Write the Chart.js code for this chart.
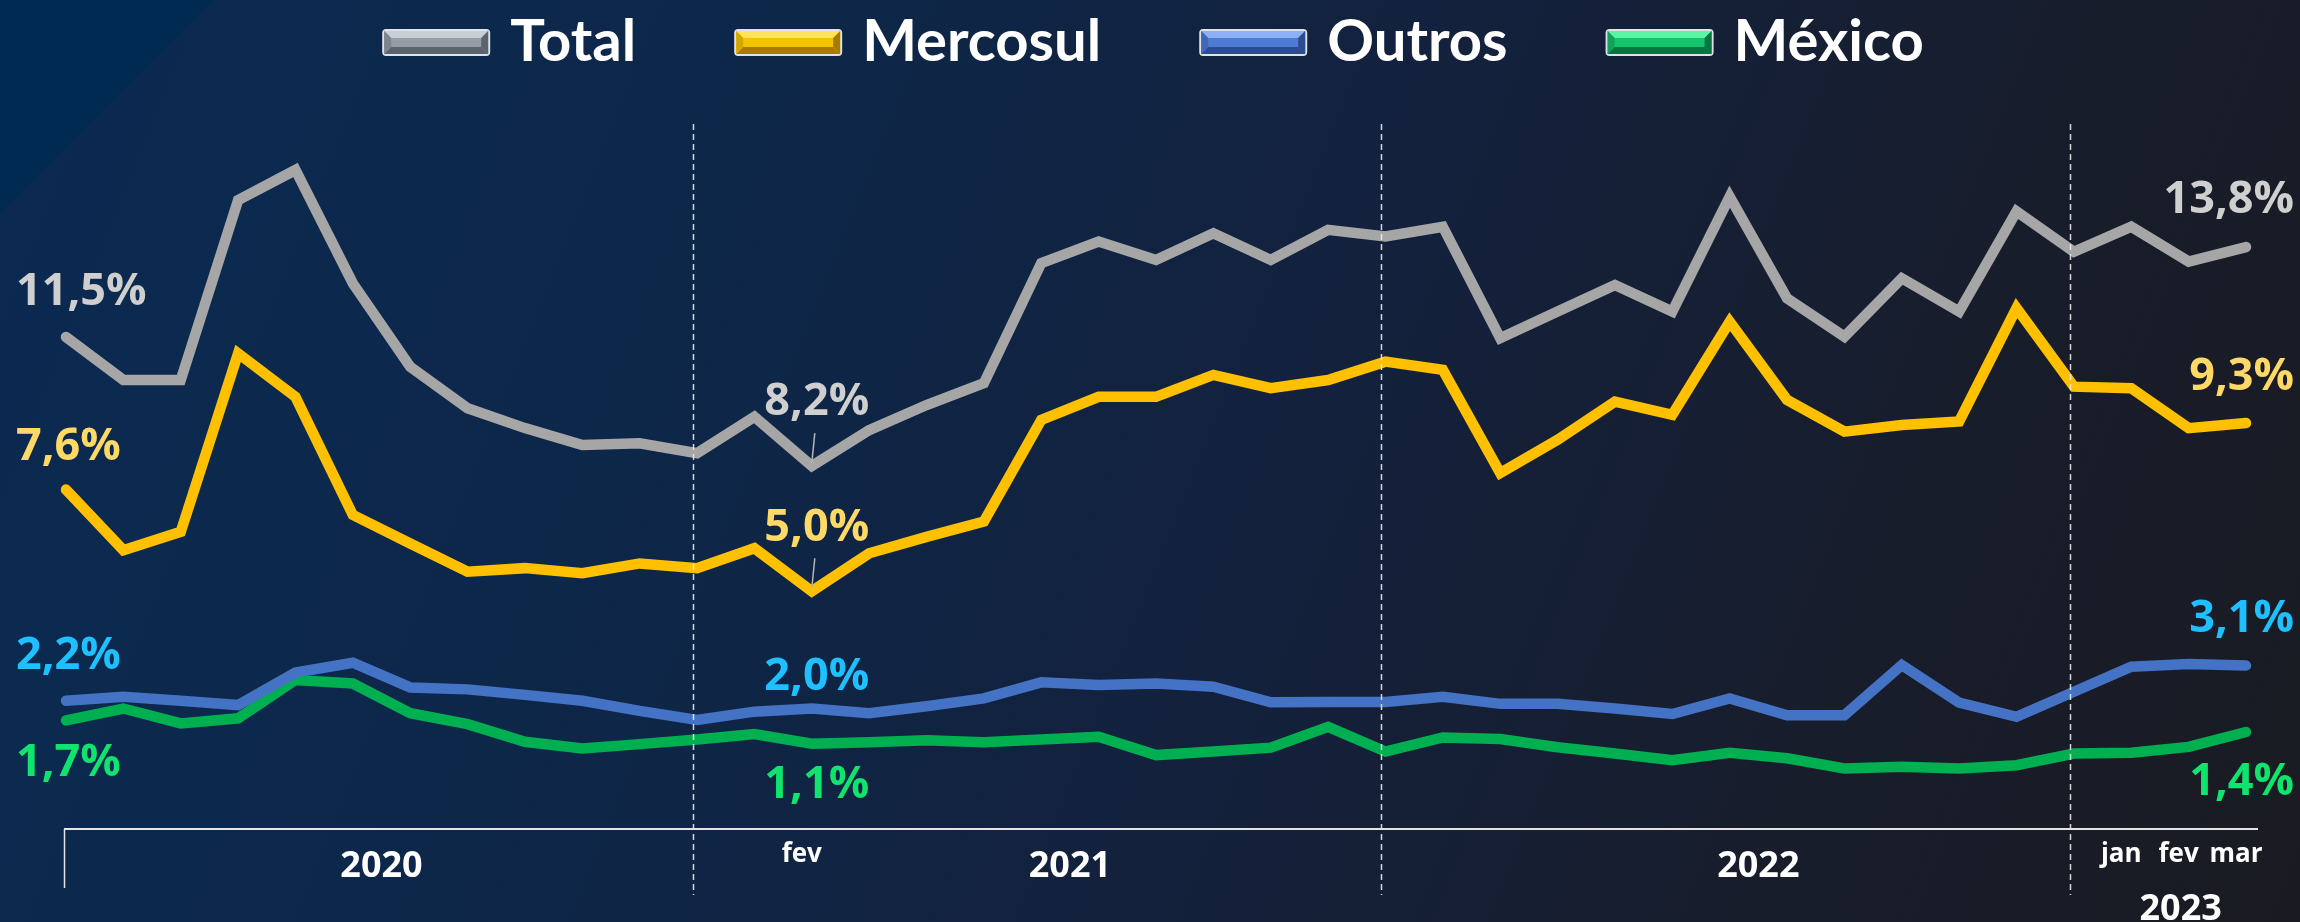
<!DOCTYPE html>
<html><head><meta charset="utf-8">
<script src="https://cdn.jsdelivr.net/npm/chart.js@4/dist/chart.umd.min.js"></script>
<style>html,body{margin:0;padding:0;background:#10223f;}canvas{display:block;}</style>
</head><body><canvas id="c" width="2300" height="922"></canvas>
<script>
// ---------- DATA ----------
const monthNames = ['jan','fev','mar','abr','mai','jun','jul','ago','set','out','nov','dez'];
const years = ['2020','2021','2022','2023'];
const monthsPerYear = [12, 12, 12, 3];
const seriesNames = ['Total', 'Mercosul', 'Outros', 'México'];
const total    = [11.5,10.40,10.40,15.00,15.77,12.87,10.74,9.68,9.17,8.74,8.78,8.53,9.46,8.2,9.12,9.76,10.32,13.39,13.94,13.47,14.15,13.47,14.24,14.07,14.32,11.47,12.15,12.83,12.15,15.09,12.49,11.51,13.0,12.15,14.71,13.68,14.32,13.43,13.8];
const mercosul = [7.6,6.05,6.52,11.08,9.97,6.95,6.22,5.50,5.59,5.46,5.71,5.59,6.10,5.0,5.97,6.39,6.78,9.38,9.97,9.97,10.53,10.19,10.40,10.87,10.66,8.02,8.87,9.85,9.51,11.89,9.89,9.08,9.25,9.34,12.24,10.23,10.19,9.17,9.3];
const outros   = [2.2,2.30,2.20,2.09,2.92,3.17,2.54,2.49,2.35,2.20,1.94,1.71,1.92,2.0,1.88,2.06,2.26,2.67,2.60,2.64,2.56,2.16,2.17,2.17,2.30,2.12,2.12,2.00,1.86,2.26,1.83,1.83,3.11,2.15,1.79,2.43,3.07,3.14,3.1];
const mexico   = [1.7,2.00,1.62,1.75,2.73,2.64,1.88,1.60,1.15,0.98,1.09,1.21,1.35,1.1,1.14,1.19,1.14,1.21,1.28,0.81,0.90,1.00,1.53,0.90,1.26,1.22,1.01,0.85,0.68,0.87,0.73,0.47,0.51,0.47,0.55,0.85,0.87,1.02,1.4];
const labelIndices = [0, 13, 38];      // points carrying value labels
const monthTickIndices = [13, 36, 37, 38]; // month names shown under the axis

// categories built from month/year arrays
const categories = [];
years.forEach((y, yi) => { for (let m = 0; m < monthsPerYear[yi]; m++) categories.push(monthNames[m] + '/' + y); });

// ---------- STYLES ----------
const lineColors  = ['#A6A6A6', '#FFC000', '#4472C4', '#00B050'];
const labelColors = ['#CFCFCF', '#FFD966', '#1EC0FF', '#10E36E'];
const swatchColors = [
  {light:'#c9ced4', mid:'#959ca5', dark:'#5c636c', side:'#7d848c'},
  {light:'#ffe45a', mid:'#f3c300', dark:'#a57c00', side:'#d4a800'},
  {light:'#8db0f5', mid:'#4d7bd3', dark:'#2b4c8f', side:'#3f68b5'},
  {light:'#5cf3a4', mid:'#15c46d', dark:'#0a7440', side:'#10a258'}
];
// label placement: dy relative to point (baseline), per series for [first, fev, last]
const labelDy = [[-32,-51,-34],[-30,-50,-33],[-32,-19,-34],[56,54,63]];
const FONT = '"Open Sans", "Noto Sans", sans-serif';

function fmt(v){ return v.toFixed(1).replace('.', ',') + '%'; }

const decor = {
  id: 'decor',
  beforeDraw(chart) {
    const ctx = chart.ctx, W = chart.width, H = chart.height;
    ctx.save();
    const g = ctx.createLinearGradient(0, 0, W, H);
    g.addColorStop(0, '#0b2a52');
    g.addColorStop(0.3, '#0d2749');
    g.addColorStop(0.55, '#13213d');
    g.addColorStop(0.8, '#181d2b');
    g.addColorStop(1, '#1a1b22');
    ctx.fillStyle = g;
    ctx.fillRect(0, 0, W, H);
    ctx.fillStyle = '#002a52';
    ctx.beginPath(); ctx.moveTo(0,0); ctx.lineTo(213,0); ctx.lineTo(0,214); ctx.closePath(); ctx.fill();
    ctx.restore();
  },
  afterDatasetsDraw(chart) {
    const ctx = chart.ctx, xs = chart.scales.x;
    ctx.save();
    ctx.strokeStyle = 'rgba(235,235,235,0.9)';
    ctx.lineWidth = 1.5;
    ctx.setLineDash([6, 4]);
    let idx = -1;
    monthsPerYear.forEach((n, yi) => {
      idx += n;
      if (yi < monthsPerYear.length - 1) {
        const x = Math.round(xs.getPixelForValue(idx) - 4) + 0.5;
        ctx.beginPath(); ctx.moveTo(x, 124); ctx.lineTo(x, 895); ctx.stroke();
      }
    });
    ctx.restore();
  },
  afterDraw(chart) {
    const ctx = chart.ctx, xs = chart.scales.x, area = chart.chartArea;
    ctx.save();
    // axis line + left tick
    ctx.strokeStyle = '#e4e4e4'; ctx.lineWidth = 2;
    ctx.beginPath(); ctx.moveTo(64, area.bottom); ctx.lineTo(area.right + 12, area.bottom); ctx.stroke();
    ctx.lineWidth = 1.5;
    ctx.beginPath(); ctx.moveTo(64.5, area.bottom); ctx.lineTo(64.5, area.bottom + 59); ctx.stroke();

    // year labels
    ctx.fillStyle = '#ffffff';
    ctx.textAlign = 'center'; ctx.textBaseline = 'alphabetic';
    ctx.font = 'bold 36px ' + FONT;
    let start = 0;
    years.forEach((y, yi) => {
      const end = start + monthsPerYear[yi] - 1;
      const cx = (xs.getPixelForValue(start) + xs.getPixelForValue(end)) / 2;
      const by = yi === years.length - 1 ? 920 : 877;
      ctx.fillText(y, yi === years.length - 1 ? cx - 8 : cx, by);
      start = end + 1;
    });
    // month ticks
    ctx.font = 'bold 26px ' + FONT;
    monthTickIndices.forEach(i => {
      ctx.fillText(categories[i].split('/')[0], xs.getPixelForValue(i) - 10, 862);
    });

    // value labels
    ctx.font = 'bold 45px ' + FONT;
    chart.data.datasets.forEach((ds, si) => {
      const meta = chart.getDatasetMeta(si);
      labelIndices.forEach((i, k) => {
        const p = meta.data[i];
        const txt = fmt(ds.data[i]);
        ctx.fillStyle = labelColors[si];
        let x;
        if (k === 0) { ctx.textAlign = 'left'; x = 16; }
        else if (k === 1) { ctx.textAlign = 'center'; x = p.x + 5; }
        else { ctx.textAlign = 'right'; x = chart.width - 6; }
        ctx.fillText(txt, x, p.y + labelDy[si][k]);
        if (k === 1 && si < 2) {
          ctx.strokeStyle = '#b5b5b5'; ctx.lineWidth = 1.5;
          ctx.beginPath(); ctx.moveTo(p.x + 3, p.y - 33); ctx.lineTo(p.x, p.y - 3); ctx.stroke();
        }
      });
    });

    // legend
    ctx.font = 'bold 58px Lato, ' + FONT;
    ctx.textAlign = 'left';
    const sw = 104, sh = 23, gapTxt = 22, gapItem = 100;
    const widths = seriesNames.map(n => sw + gapTxt + ctx.measureText(n).width);
    const totalW = widths.reduce((a, b) => a + b, 0) + gapItem * (seriesNames.length - 1);
    let x = 1154 - totalW / 2;
    seriesNames.forEach((n, si) => {
      drawSwatch(ctx, x, 31, sw, sh, swatchColors[si]);
      ctx.fillStyle = '#ffffff';
      ctx.fillText(n, x + sw + gapTxt, 61);
      x += widths[si] + gapItem;
    });
    ctx.restore();
  }
};

function poly(ctx, pts, color) {
  ctx.fillStyle = color; ctx.beginPath();
  pts.forEach((p, i) => i ? ctx.lineTo(p[0], p[1]) : ctx.moveTo(p[0], p[1]));
  ctx.closePath(); ctx.fill();
}
function drawSwatch(ctx, x, y, w, h, c) {
  ctx.save();
  ctx.fillStyle = '#dfe3e8';
  ctx.beginPath();
  ctx.roundRect(x - 2, y - 2, w + 4, h + 4, 4);
  ctx.fill();
  ctx.fillStyle = c.mid; ctx.fillRect(x, y, w, h);
  const b = 7;
  poly(ctx, [[x,y],[x+w,y],[x+w-b,y+b],[x+b,y+b]], c.light);
  poly(ctx, [[x,y+h],[x+w,y+h],[x+w-b,y+h-b],[x+b,y+h-b]], c.dark);
  poly(ctx, [[x,y],[x+b,y+b],[x+b,y+h-b],[x,y+h]], c.side);
  poly(ctx, [[x+w,y],[x+w-b,y+b],[x+w-b,y+h-b],[x+w,y+h]], c.dark);
  ctx.restore();
}

const seriesData = [total, mercosul, outros, mexico];
new Chart(document.getElementById('c'), {
  type: 'line',
  data: {
    labels: categories,
    datasets: seriesNames.map((n, i) => ({
      label: n,
      data: seriesData[i],
      borderColor: lineColors[i],
      borderWidth: 10.5,
      pointRadius: 0,
      tension: 0,
      borderCapStyle: 'round',
      borderJoinStyle: 'miter',
      clip: false
    }))
  },
  options: {
    responsive: false,
    animation: false,
    layout: { padding: { left: 66, right: 54, top: 161, bottom: 93 } },
    scales: {
      x: { type: 'category', display: false, offset: false },
      y: { display: false, min: -1.08, max: 16 }
    },
    plugins: { legend: { display: false }, tooltip: { enabled: false } }
  },
  plugins: [decor]
});
</script>
</body></html>
